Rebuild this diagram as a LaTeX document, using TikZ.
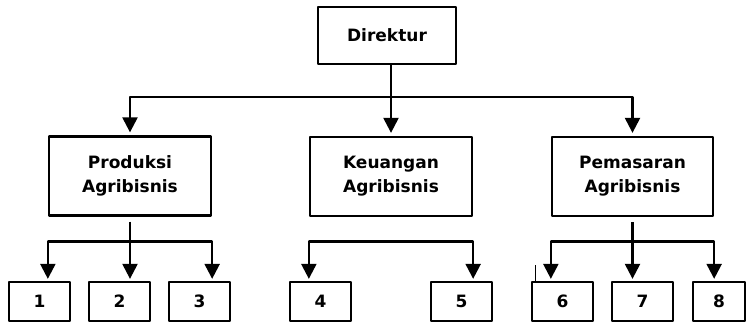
\documentclass[tikz,border=0pt]{standalone}
\usepackage{fontspec}
\setmainfont{DejaVu Sans}
\usetikzlibrary{arrows.meta}
\begin{document}
\begin{tikzpicture}[x=1pt,y=-1pt,>={Triangle[width=15pt,length=15pt]}, line width=2.3pt, line join=round,
	font=\bfseries\fontsize{17}{24}\selectfont]
	\tikzset{unit/.style={draw,align=center,minimum width=162pt,minimum height=79pt,inner sep=0pt},
		sub/.style={draw,minimum width=61pt,minimum height=39pt,inner sep=0pt}}
	\useasboundingbox (0,0) rectangle (746,323);
	\node[draw,minimum width=138pt,minimum height=57pt] (dir) at (387,35.5) {Direktur};
	\node[unit] (pro) at (130,176) {Produksi\\Agribisnis};
	\node[unit] (keu) at (391,176.5) {Keuangan\\Agribisnis};
	\node[unit,minimum width=161pt] (pem) at (632.5,176.5) {Pemasaran\\Agribisnis};
	\foreach \n/\x in {1/39.5,2/119.5,3/199.5,4/320.5,5/461.5,6/562.5,7/642.5}
		\node[sub] (b\n) at (\x,301.5) {\n};
	\node[sub,minimum width=52pt] (b8) at (719,301.5) {8};
	\coordinate (bar1) at (0,97);
	\coordinate (bar2) at (0,241.5);
	\draw[->,shorten >=3pt] (dir.south -| keu) -- (keu.north);
	\draw[<->,shorten <=3pt,shorten >=3pt] (pro.north) -- (bar1 -| pro) -- (bar1 -| pem) -- (pem.north);
	\draw ([yshift=-5pt]pro.south) -- (bar2 -| pro);
	\draw[<->,shorten <=2pt,shorten >=2pt] (b1.north -| pro.west) -- (bar2 -| pro.west) -- (bar2 -| pro.east) -- (b3.north -| pro.east);
	\draw[->,shorten >=2pt] (bar2 -| pro) -- (b2.north -| pro);
	\draw[<->,shorten <=2pt,shorten >=2pt] (b4.north -| keu.west) -- (bar2 -| keu.west) -- (bar2 -| keu.east) -- (b5.north -| keu.east);
	\draw ([yshift=-5pt]pem.south) -- (bar2 -| pem);
	\draw[<->,shorten <=2pt,shorten >=2pt] (b6.north -| pem.west) -- (bar2 -| pem.west) -- (bar2 -| pem.east) -- (b8.north -| pem.east);
	\draw[->,shorten >=2pt] (bar2 -| pem) -- (b7.north -| pem);
	\draw[line width=1.2pt] ([xshift=5pt]b6.north west) -- ++(0,-16);
\end{tikzpicture}
\end{document}
